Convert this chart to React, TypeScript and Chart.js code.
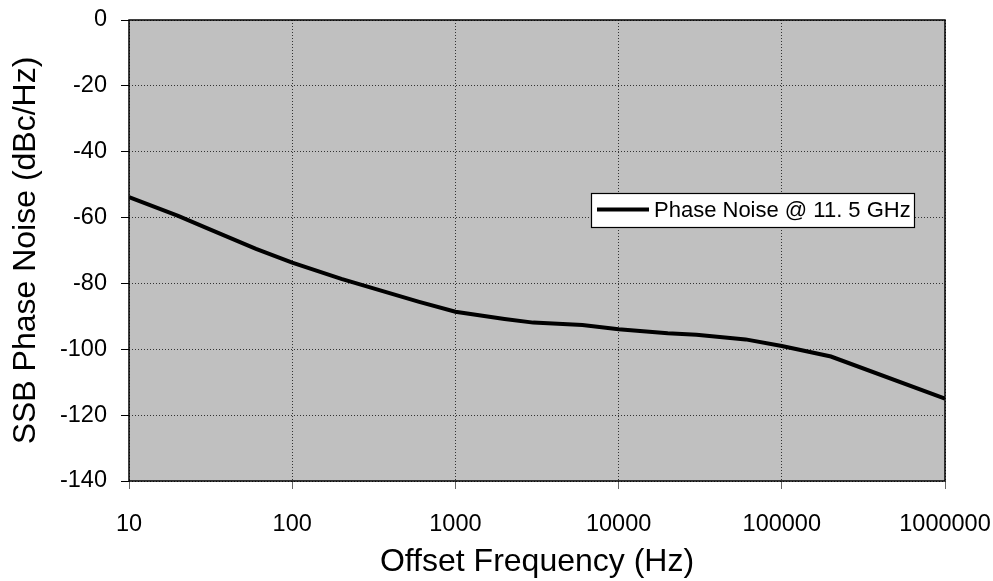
import React, { useEffect, useRef } from "react";
import { Chart, registerables } from "chart.js";

Chart.register(...registerables);

const frequencies = [10, 20, 30, 60, 100, 200, 300, 600, 1000, 2000, 3000, 6000, 10000, 20000, 30000, 60000, 100000, 200000, 1000000];
const phaseNoise = [-53.8, -59.5, -63.2, -69.5, -73.7, -78.6, -81.2, -85.6, -88.6, -90.8, -91.9, -92.6, -93.9, -95.1, -95.6, -97.0, -99.0, -102.2, -115.0];
const xTickValues = [10, 100, 1000, 10000, 100000, 1000000];
const seriesLabel = "Phase Noise @ 11. 5 GHz";
const xTitle = "Offset Frequency (Hz)";
const yTitle = "SSB Phase Noise (dBc/Hz)";

const FONT = "'Liberation Sans', Arial, sans-serif";

const plotDecor = {
  id: "plotDecor",
  beforeDraw(chart: any) {
    const { ctx, chartArea } = chart;
    ctx.save();
    ctx.fillStyle = "#ffffff";
    ctx.fillRect(0, 0, chart.width, chart.height);
    ctx.fillStyle = "#c0c0c0";
    ctx.fillRect(chartArea.left, chartArea.top, chartArea.right - chartArea.left, chartArea.bottom - chartArea.top);
    ctx.restore();
  },
  afterDatasetsDraw(chart: any) {
    const { ctx, chartArea } = chart;
    ctx.save();
    ctx.strokeStyle = "#000";
    ctx.lineWidth = 1.5;
    ctx.strokeRect(chartArea.left, chartArea.top, chartArea.right - chartArea.left, chartArea.bottom - chartArea.top);
    // legend box
    const x = 591.5, y = 193.5, w = 323, h = 34;
    ctx.fillStyle = "#fff";
    ctx.fillRect(x, y, w, h);
    ctx.lineWidth = 1.2;
    ctx.strokeStyle = "#000";
    ctx.strokeRect(x, y, w, h);
    ctx.lineWidth = 4;
    ctx.beginPath();
    ctx.moveTo(597, 209.5);
    ctx.lineTo(649, 209.5);
    ctx.stroke();
    ctx.fillStyle = "#000";
    ctx.font = `22px ${FONT}`;
    ctx.textBaseline = "middle";
    ctx.textAlign = "left";
    ctx.fillText(chart.data.datasets[0].label, 654, 211);
    ctx.restore();
  },
};

export default function App() {
  const ref = useRef<HTMLCanvasElement | null>(null);
  useEffect(() => {
    if (!ref.current) return;
    const chart = new Chart(ref.current, {
      type: "line",
      data: {
        datasets: [
          {
            label: seriesLabel,
            data: frequencies.map((f, i) => ({ x: f, y: phaseNoise[i] })),
            borderColor: "#000",
            borderWidth: 4,
            pointRadius: 0,
            tension: 0,
            fill: false,
          },
        ],
      },
      options: {
        animation: false,
        responsive: false,
        maintainAspectRatio: false,
        layout: { padding: { top: 20, right: 48, left: 0, bottom: 0 } },
        plugins: { legend: { display: false }, tooltip: { enabled: false } },
        scales: {
          x: {
            type: "logarithmic",
            min: 10,
            max: 1000000,
            afterBuildTicks: (scale: any) => {
              scale.ticks = xTickValues.map((v) => ({ value: v }));
            },
            afterFit: (scale: any) => {
              scale.height = 100;
              scale.paddingLeft = 0;
              scale.paddingRight = 0;
            },
            ticks: {
              callback: (v: any) => String(v),
              color: "#000",
              font: { family: FONT, size: 23.5 },
              padding: 21,
              maxRotation: 0,
              autoSkip: false,
            },
            grid: {
              color: "#333",
              lineWidth: 1,
              tickLength: 8,
              tickColor: "#666",
              tickBorderDash: [],
            } as any,
            border: { display: false, dash: [1, 2] } as any,
            title: {
              display: true,
              text: xTitle,
              color: "#000",
              font: { family: FONT, size: 32 },
              padding: { top: 0, bottom: 0 },
            },
          },
          y: {
            min: -140,
            max: 0,
            afterFit: (scale: any) => {
              scale.width = 129;
              scale.paddingTop = 0;
              scale.paddingBottom = 0;
            },
            ticks: {
              stepSize: 20,
              color: "#000",
              font: { family: FONT, size: 23.5 },
              padding: 14,
            },
            grid: {
              color: "#333",
              lineWidth: 1,
              tickLength: 8,
              tickColor: "#000",
              tickBorderDash: [],
            } as any,
            border: { display: false, dash: [1, 2] } as any,
            title: {
              display: true,
              text: yTitle,
              color: "#000",
              font: { family: FONT, size: 32 },
              padding: { top: 7, bottom: 0 },
            },
          },
        },
      },
      plugins: [plotDecor],
    });
    return () => chart.destroy();
  }, []);
  return (
    <div style={{ position: "fixed", left: 0, top: 0, width: 993, height: 581, background: "#fff" }}>
      <canvas ref={ref} width={993} height={581} style={{ width: 993, height: 581 }} />
    </div>
  );
}
